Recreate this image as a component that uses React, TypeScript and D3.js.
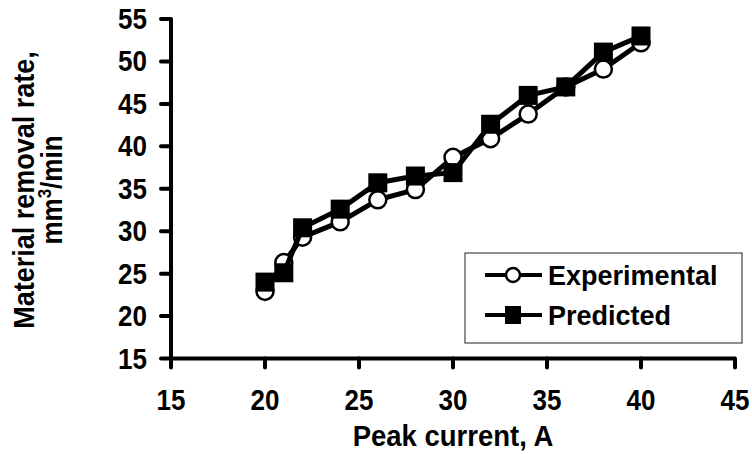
import React from "react";
import * as d3 from "d3";

const peakCurrent = [20, 21, 22, 24, 26, 28, 30, 32, 34, 36, 38, 40];
const experimental = [22.9, 26.3, 29.3, 31.1, 33.7, 34.9, 38.7, 40.9, 43.8, 47.0, 49.1, 52.2];
const predicted = [24.0, 25.1, 30.4, 32.6, 35.7, 36.5, 36.9, 42.6, 46.0, 47.0, 51.1, 53.0];
const xTicks = [15, 20, 25, 30, 35, 40, 45];
const yTicks = [15, 20, 25, 30, 35, 40, 45, 50, 55];
const seriesNames = ["Experimental", "Predicted"];

const W = 752;
const H = 454;
const FONT = "'Liberation Sans', Arial, Helvetica, sans-serif";
const SY = 1.1;

export default function App() {
  const x = d3.scaleLinear().domain([15, 45]).range([171, 735]);
  const y = d3.scaleLinear().domain([15, 55]).range([358.5, 19]);

  const line = d3
    .line<[number, number]>()
    .x((d) => x(d[0]))
    .y((d) => y(d[1]));

  const expPts: [number, number][] = peakCurrent.map((c, i) => [c, experimental[i]]);
  const predPts: [number, number][] = peakCurrent.map((c, i) => [c, predicted[i]]);

  const sq = 19;

  return (
    <svg
      width={W}
      height={H}
      style={{ position: "absolute", left: 0, top: 0, background: "#fff" }}
      fontFamily={FONT}
      fontWeight="bold"
    >
      <rect x={0} y={0} width={W} height={H} fill="#fff" />
      {/* Axes */}
      <line x1={x(15)} x2={x(15)} y1={y(55)} y2={y(15)} stroke="#000" strokeWidth={4} />
      <line x1={x(15)} x2={x(45)} y1={y(15)} y2={y(15)} stroke="#000" strokeWidth={4} />
      {yTicks.map((t) => (
        <g key={"y" + t}>
          <line x1={x(15) - 10} x2={x(15)} y1={y(t)} y2={y(t)} stroke="#000" strokeWidth={4} strokeLinecap="round" />
          <text transform={`translate(147,${y(t) + 10}) scale(1,${SY})`} textAnchor="end" fontSize={26}>
            {t}
          </text>
        </g>
      ))}
      {xTicks.map((t) => (
        <g key={"x" + t}>
          <line x1={x(t)} x2={x(t)} y1={y(15)} y2={y(15) + 9} stroke="#000" strokeWidth={4} strokeLinecap="round" />
          <text transform={`translate(${x(t)},410) scale(1,${SY})`} textAnchor="middle" fontSize={26}>
            {t}
          </text>
        </g>
      ))}
      {/* Axis titles */}
      <text transform={`translate(453,446) scale(1,${SY})`} textAnchor="middle" fontSize={27.5}>
        Peak current, A
      </text>
      <text transform={`translate(34,190) rotate(-90) scale(1,${SY})`} textAnchor="middle" fontSize={27}>
        Material removal rate,
      </text>
      <text transform={`translate(62,190) rotate(-90) scale(1,${SY})`} textAnchor="middle" fontSize={26}>
        mm<tspan fontSize={17} dy={-10}>3</tspan>
        <tspan dy={10}>/min</tspan>
      </text>

      {/* Experimental series */}
      <path d={line(expPts) || ""} fill="none" stroke="#000" strokeWidth={5} strokeLinejoin="round" />
      {expPts.map((p, i) => (
        <circle key={"c" + i} cx={x(p[0])} cy={y(p[1])} r={8.5} fill="#fff" stroke="#000" strokeWidth={2.5} />
      ))}
      {/* Predicted series */}
      <path d={line(predPts) || ""} fill="none" stroke="#000" strokeWidth={5} strokeLinejoin="round" />
      {predPts.map((p, i) => (
        <rect key={"s" + i} x={x(p[0]) - sq / 2} y={y(p[1]) - sq / 2} width={sq} height={sq} fill="#000" />
      ))}

      {/* Legend */}
      <rect x={465} y={253} width={277} height={90} fill="#fff" stroke="#444" strokeWidth={1.2} />
      {seriesNames.map((name, i) => {
        const ly = 275 + i * 40;
        return (
          <g key={name}>
            <line x1={485} x2={542} y1={ly} y2={ly} stroke="#000" strokeWidth={4} />
            {i === 0 ? (
              <circle cx={513} cy={ly} r={7} fill="#fff" stroke="#000" strokeWidth={2.5} />
            ) : (
              <rect x={513 - 8} y={ly - 9} width={16} height={18} fill="#000" />
            )}
            <text transform={`translate(548,${ly + 10}) scale(1,1.05)`} fontSize={27}>
              {name}
            </text>
          </g>
        );
      })}
    </svg>
  );
}
